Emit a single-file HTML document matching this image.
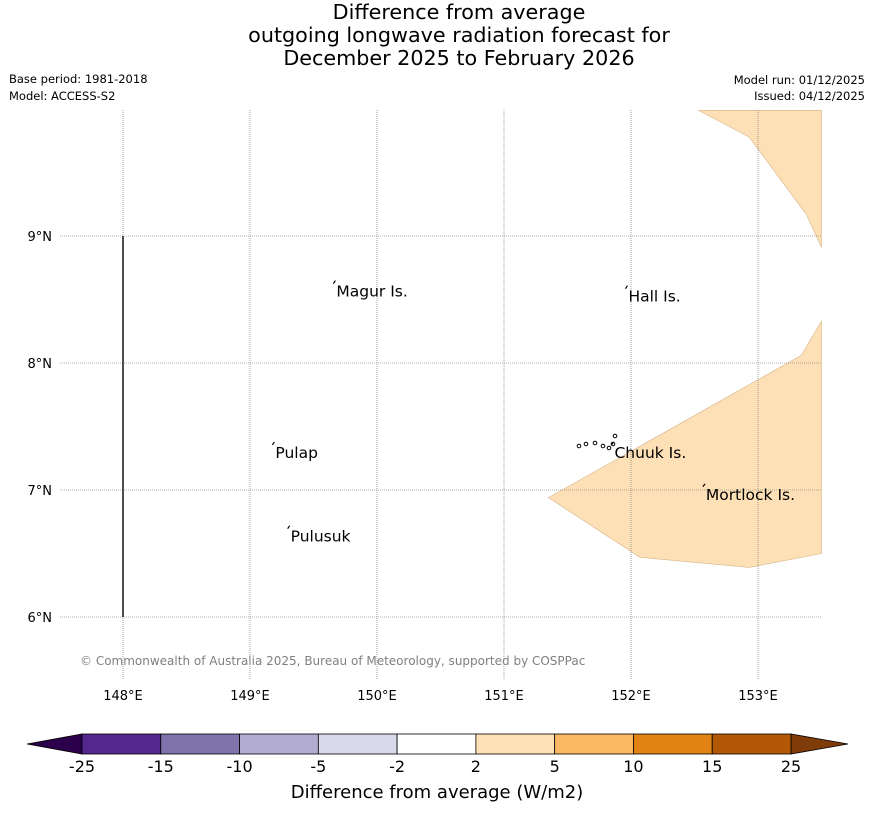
<!DOCTYPE html>
<html><head><meta charset="utf-8"><style>
body{margin:0;background:#fff;font-family:"DejaVu Sans","Liberation Sans",sans-serif;}
#wrap{position:relative;width:873px;height:816px;overflow:hidden;}
</style></head><body>
<div id="wrap">
<svg id="svg" width="873" height="816" xmlns="http://www.w3.org/2000/svg" style="position:absolute;left:0;top:0;font-family:'DejaVu Sans','Liberation Sans',sans-serif">
<g font-size="20.7" text-anchor="middle" fill="#000">
<text x="459" y="19">Difference from average</text>
<text x="459" y="42">outgoing longwave radiation forecast for</text>
<text x="459" y="65">December 2025 to February 2026</text>
</g>
<g font-size="11.5" fill="#000">
<text x="9" y="83">Base period: 1981-2018</text>
<text x="9" y="100">Model: ACCESS-S2</text>
<text x="865" y="84" text-anchor="end">Model run: 01/12/2025</text>
<text x="865" y="100" text-anchor="end">Issued: 04/12/2025</text>
</g>
<g id="map"></g>
<g id="cbar"></g>
<text x="437" y="798" font-size="18" text-anchor="middle">Difference from average (W/m2)</text>
</svg>
</div>
<script>
const lonTicks=[148,149,150,151,152,153];
const latTicks=[6,7,8,9];
const polyTopLon=[152.53,152.93,153.38,153.5,153.5];
const polyTopLat=[9.99,9.78,9.17,8.91,9.99];
const polyLowLon=[151.35,152.07,152.93,153.5,153.5,153.34,152.4];
const polyLowLat=[6.94,6.47,6.39,6.5,8.33,8.06,7.53];
const placeNames=["Magur Is.","Hall Is.","Pulap","Chuuk Is.","Mortlock Is.","Pulusuk"];
const placeLon=[149.68,151.98,149.2,151.87,152.59,149.32];
const placeLat=[8.57,8.53,7.3,7.3,6.97,6.64];
const cbLevels=[-25,-15,-10,-5,-2,2,5,10,15,25];
const cbColors=["#54278f","#8073ac","#b2abd2","#d8daeb","#ffffff","#fee0b6","#fdb863","#e08214","#b35806"];
const NS="http://www.w3.org/2000/svg";
const x=lon=>123+(lon-148)*127;
const y=lat=>617-(lat-6)*127;
function mk(p,t,a){const e=document.createElementNS(NS,t);for(const k in a)e.setAttribute(k,a[k]);p.appendChild(e);return e;}
const map=document.getElementById('map');
const L=60,R=822,T=110,B=680;
function poly(lo,la,name){const e=mk(map,'polygon',{points:lo.map((v,i)=>x(v)+','+y(la[i])).join(' '),fill:'#fde0b6',stroke:'#d9b48a','stroke-width':0.6});

}
poly(polyTopLon,polyTopLat,'anomaly-region-north');
poly(polyLowLon,polyLowLat,'anomaly-region-south');
lonTicks.forEach(v=>{const l=mk(map,'line',{x1:x(v),x2:x(v),y1:T,y2:B,stroke:'#666','stroke-width':0.6,'stroke-dasharray':'1,1'});


const t=mk(map,'text',{x:x(v),y:700,'font-size':13,'text-anchor':'middle'});t.textContent=v+'°E';

});
latTicks.forEach(v=>{const l=mk(map,'line',{x1:L,x2:R,y1:y(v),y2:y(v),stroke:'#666','stroke-width':0.6,'stroke-dasharray':'1,1'});


const t=mk(map,'text',{x:52,y:y(v)+5,'font-size':13,'text-anchor':'end'});t.textContent=v+'°N';

});
const vl=mk(map,'line',{x1:x(148),x2:x(148),y1:y(9),y2:y(6),stroke:'#222','stroke-width':1.6});


placeNames.forEach((n,i)=>{const px=x(placeLon[i]),py=y(placeLat[i]);
const m=mk(map,'path',{d:`M${px-3},${py-7} l2,-3`,stroke:'#000','stroke-width':1.2,fill:'none'});


const t=mk(map,'text',{x:px,y:py+6,'font-size':15.5});t.textContent=n;

});
const ch=mk(map,'g',{stroke:'#000',fill:'none','stroke-width':1});


[[579,446],[586,444],[595,443],[603,446],[609,448],[615,436],[613,444]].forEach(p=>mk(ch,'circle',{cx:p[0],cy:p[1],r:1.8}));
const cr=mk(map,'text',{x:80,y:665,'font-size':12,fill:'#808080'});cr.textContent='© Commonwealth of Australia 2025, Bureau of Meteorology, supported by COSPPac';


const cb=document.getElementById('cbar');
const c0=82,c1=791,cy0=734,cy1=754;
const sw=(c1-c0)/cbColors.length;
const lt=mk(cb,'polygon',{points:`${c0},${cy0} ${c0},${cy1} 27,744`,fill:'#2d004b',stroke:'#000','stroke-width':0.8});


const rt=mk(cb,'polygon',{points:`${c1},${cy0} ${c1},${cy1} 848,744`,fill:'#7f3b08',stroke:'#000','stroke-width':0.8});


cbColors.forEach((c,i)=>{const r=mk(cb,'rect',{x:c0+i*sw,y:cy0,width:sw,height:cy1-cy0,fill:c,stroke:'#000','stroke-width':0.8});

});
cbLevels.forEach((v,i)=>{const t=mk(cb,'text',{x:c0+i*sw,y:772,'font-size':16,'text-anchor':'middle'});t.textContent=v;

});
</script>
</body></html>
